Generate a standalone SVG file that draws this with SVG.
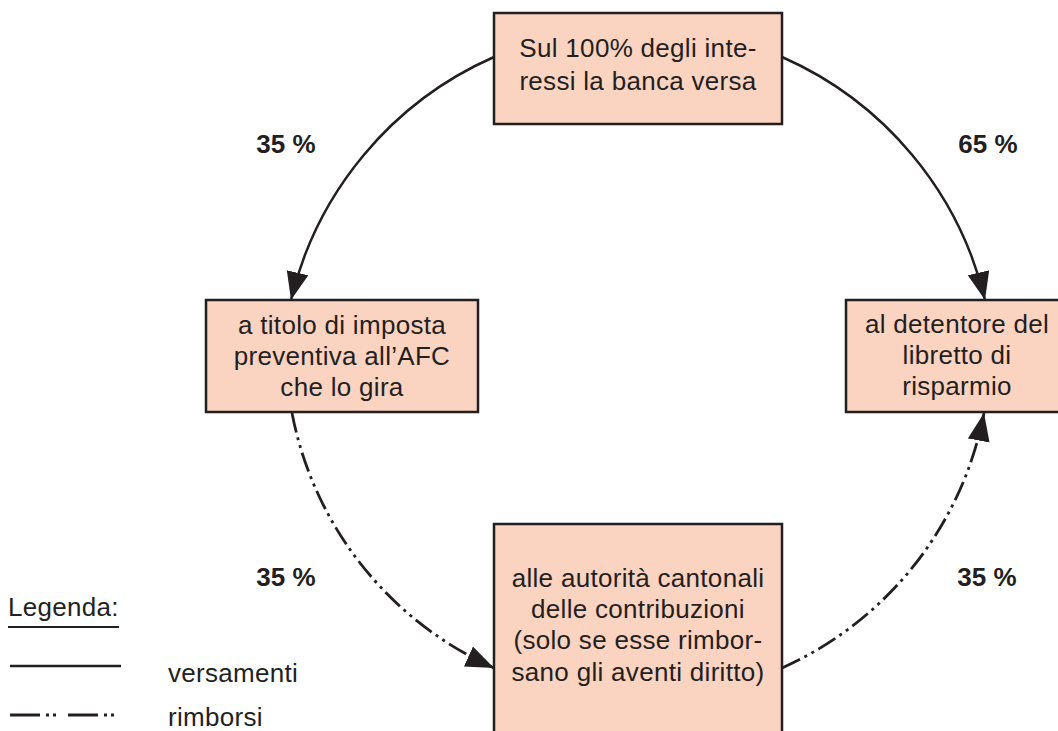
<svg xmlns="http://www.w3.org/2000/svg" width="1058" height="731" viewBox="0 0 1058 731">
<defs>
<style>
.box{fill:#fbd3c1;stroke:#231f20;stroke-width:2.5}
.t{font-family:"Liberation Sans",Arial,sans-serif;font-size:26px;fill:#231f20;text-anchor:middle;letter-spacing:0.3px}
.lbl{font-family:"Liberation Sans",Arial,sans-serif;font-size:26px;font-weight:bold;fill:#231f20;text-anchor:middle}
.lg{font-family:"Liberation Sans",Arial,sans-serif;font-size:26px;fill:#231f20;letter-spacing:0.3px}
.solid{fill:none;stroke:#231f20;stroke-width:2.5}
.dd{fill:none;stroke:#231f20;stroke-width:2.8;stroke-dasharray:20 5 3 5 3 5}
</style>
<marker id="ah" markerUnits="userSpaceOnUse" markerWidth="30" markerHeight="24" refX="28" refY="11" orient="auto">
<path d="M0,0 L28,11 L0,22 Z" fill="#231f20"/>
</marker>
</defs>
<rect width="1058" height="731" fill="#ffffff"/>
<g id="connectors">
<path class="solid" d="M494,57 A356,356 0 0 0 291,300" marker-end="url(#ah)"/>
<path class="solid" d="M782,57 A356,356 0 0 1 985,300" marker-end="url(#ah)"/>
<path class="dd" d="M292,413 A352,352 0 0 0 494,668" marker-end="url(#ah)"/>
<path class="dd" d="M782,668 A352,352 0 0 0 984,413" marker-end="url(#ah)"/>
</g>
<g id="top">
<rect class="box" x="494" y="13" width="288" height="111"/>
<text class="t" x="638" y="57">Sul 100% degli inte-</text>
<text class="t" x="638" y="90">ressi la banca versa</text>
</g>
<g id="left">
<rect class="box" x="206" y="300" width="272" height="112"/>
<text class="t" x="342" y="334">a titolo di imposta</text>
<text class="t" x="342" y="365">preventiva all’AFC</text>
<text class="t" x="342" y="396">che lo gira</text>
</g>
<g id="right">
<rect class="box" x="846" y="300" width="216" height="112"/>
<text class="t" x="957" y="333">al detentore del</text>
<text class="t" x="957" y="364">libretto di</text>
<text class="t" x="957" y="395">risparmio</text>
</g>
<g id="bottom">
<rect class="box" x="494" y="524" width="288" height="220"/>
<text class="t" x="638" y="587">alle autorità cantonali</text>
<text class="t" x="638" y="618">delle contribuzioni</text>
<text class="t" x="638" y="649">(solo se esse rimbor-</text>
<text class="t" x="638" y="681">sano gli aventi diritto)</text>
</g>
<g id="labels">
<text class="lbl" x="286" y="153">35 %</text>
<text class="lbl" x="988" y="153">65 %</text>
<text class="lbl" x="286" y="586">35 %</text>
<text class="lbl" x="987" y="586">35 %</text>
</g>
<g id="legend">
<text class="lg" x="8" y="616">Legenda:</text>
<line x1="8" y1="627" x2="119" y2="627" stroke="#231f20" stroke-width="2"/>
<line x1="10" y1="666" x2="121" y2="666" stroke="#231f20" stroke-width="2.5"/>
<line x1="10" y1="715" x2="114" y2="715" stroke="#231f20" stroke-width="2.8" stroke-dasharray="30 6 3 4 3 12"/>
<text class="lg" x="168" y="682">versamenti</text>
<text class="lg" x="168" y="726">rimborsi</text>
</g>
</svg>
